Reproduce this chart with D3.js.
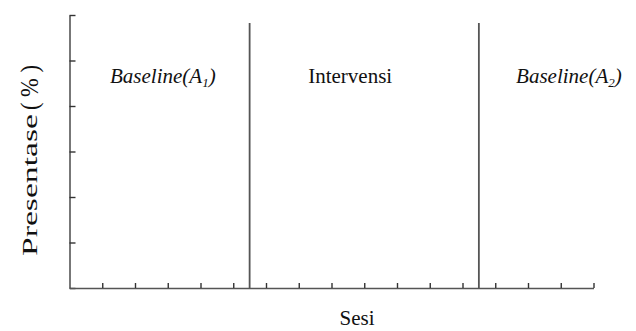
<!DOCTYPE html>
<html>
<head>
<meta charset="utf-8">
<script src="https://cdn.jsdelivr.net/npm/d3@7"></script>
<style>
  body { margin: 0; background: #fff; }
  text { font-family: "Liberation Serif", "Times New Roman", serif; fill: #111; }
</style>
</head>
<body>
<div id="wrapper"></div>
<script>
// sessions along the x axis (no labels drawn in the source)
const sessions = d3.range(1, 17);
// y ticks, percent, no labels drawn either
const yTicks = [0, 20, 40, 60, 80, 100, 120];
// phase change lines sit between sessions
const phaseChanges = [5.5, 12.5];
const phaseLineTop = 116.5;
// phase names and where they sit (session, percent)
const phaseNames = ["Baseline", "Intervensi", "Baseline"];
const phaseSubs = ["1", null, "2"];
const phaseLabelX = [2.85, 8.57, 15.25];
const phaseLabelY = 90;

const xLabel = "Sesi";
const yLabel = "Presentase";
const yUnit = "( % )";

function drawChart() {
  let dimensions = {
    width: 636,
    height: 331,
    margins: { top: 15, left: 69.5, bottom: 43, right: 42.5 }
  };
  dimensions.boundedWidth = dimensions.width
    - dimensions.margins.left - dimensions.margins.right;
  dimensions.boundedHeight = dimensions.height
    - dimensions.margins.top - dimensions.margins.bottom;

  const svg = d3.select("#wrapper").append("svg")
    .attr("width", dimensions.width)
    .attr("height", dimensions.height);

  const bounds = svg.append("g")
    .attr("transform", `translate(${dimensions.margins.left},${dimensions.margins.top})`);

  const xScale = d3.scaleLinear()
    .domain([0, 16])
    .range([0, dimensions.boundedWidth]);
  const yScale = d3.scaleLinear()
    .domain([0, 120])
    .range([dimensions.boundedHeight, 0]);

  const axisColor = "#555";

  // axes, ticks point inward and carry no labels
  const yAxis = bounds.append("g")
    .call(d3.axisLeft(yScale)
      .tickValues(yTicks)
      .tickSizeInner(-6)
      .tickSizeOuter(0)
      .tickFormat(""));

  const xAxis = bounds.append("g")
    .attr("transform", `translate(0,${dimensions.boundedHeight})`)
    .call(d3.axisBottom(xScale)
      .tickValues(sessions)
      .tickSizeInner(-5)
      .tickSizeOuter(0)
      .tickFormat(""));

  [yAxis, xAxis].forEach(a => {
    a.select(".domain").attr("stroke", axisColor).attr("stroke-width", 1.6);
    a.selectAll(".tick line").attr("stroke", "#333").attr("stroke-width", 1.4);
  });

  // phase change lines
  bounds.selectAll(".phase")
    .data(phaseChanges)
    .join("line")
    .attr("class", "phase")
    .attr("x1", d => xScale(d))
    .attr("x2", d => xScale(d))
    .attr("y1", yScale(phaseLineTop))
    .attr("y2", yScale(0))
    .attr("stroke", axisColor)
    .attr("stroke-width", 1.8);

  // phase labels
  const labels = bounds.selectAll(".phase-label")
    .data(phaseNames)
    .join("text")
    .attr("class", "phase-label")
    .attr("x", (d, i) => xScale(phaseLabelX[i]))
    .attr("y", yScale(phaseLabelY))
    .attr("text-anchor", "middle")
    .style("font-size", "21px");

  labels.each(function(d, i) {
    const t = d3.select(this);
    if (phaseSubs[i] === null) {
      t.text(d);
      return;
    }
    t.style("font-style", "italic");
    t.append("tspan").text(d + "(A");
    t.append("tspan").text(phaseSubs[i])
      .attr("dy", 4).style("font-size", "13px");
    t.append("tspan").text(")").attr("dy", -4);
  });

  // axis titles
  svg.append("text")
    .attr("x", 357)
    .attr("y", 325)
    .attr("text-anchor", "middle")
    .style("font-size", "21px")
    .text(xLabel);

  // y title is stretched along its length in the source
  const yTitle = svg.append("g")
    .attr("transform", "translate(37,0) rotate(-90)")
    .style("fill", "#2a2a2a");
  yTitle.append("text")
    .attr("x", -256)
    .attr("y", 0)
    .attr("textLength", 142)
    .attr("lengthAdjust", "spacingAndGlyphs")
    .style("font-size", "21px")
    .text(yLabel);
  yTitle.append("text")
    .attr("x", -110)
    .attr("y", 1)
    .attr("textLength", 45)
    .attr("lengthAdjust", "spacingAndGlyphs")
    .style("font-size", "26px")
    .text(yUnit);
}

drawChart();
</script>
</body>
</html>
